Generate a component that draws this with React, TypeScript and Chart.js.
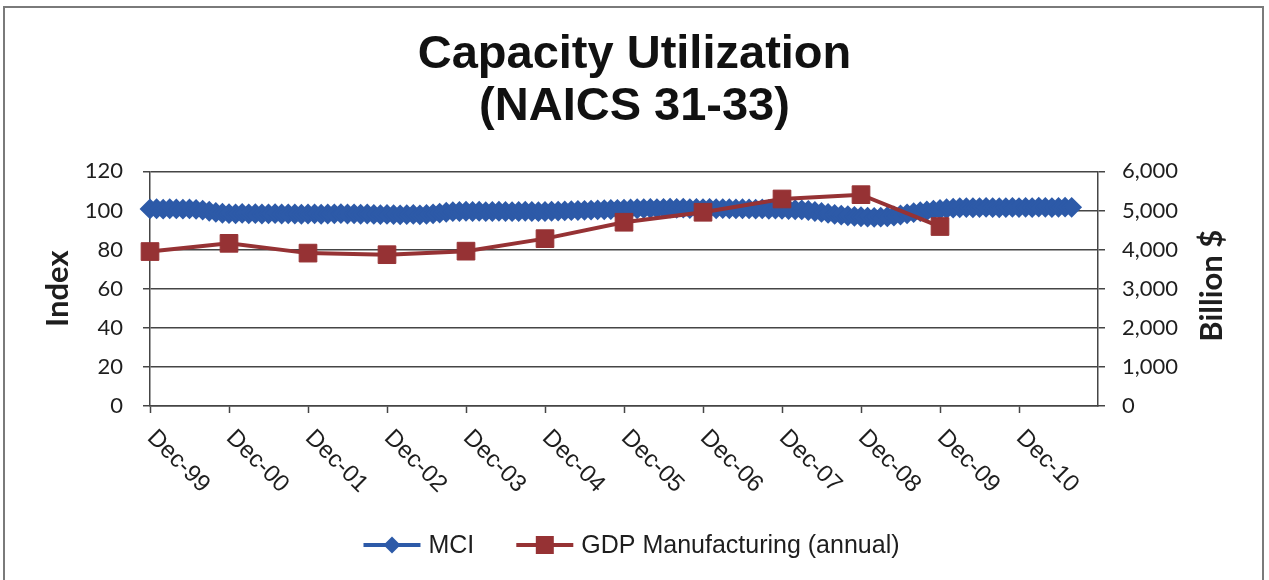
import React, { useEffect, useRef } from 'react';
import { Chart, registerables } from 'chart.js';

Chart.register(...registerables);

const TITLE_LINES = ['Capacity Utilization', '(NAICS 31-33)'];
const MONTHS = ['Jan', 'Feb', 'Mar', 'Apr', 'May', 'Jun', 'Jul', 'Aug', 'Sep', 'Oct', 'Nov', 'Dec'];
const YEARS = [2000, 2001, 2002, 2003, 2004, 2005, 2006, 2007, 2008, 2009, 2010, 2011];
const X_TICK_LABELS = ['Dec-99', 'Dec-00', 'Dec-01', 'Dec-02', 'Dec-03', 'Dec-04', 'Dec-05', 'Dec-06', 'Dec-07', 'Dec-08', 'Dec-09', 'Dec-10'];
const LEFT_TICKS = [0, 20, 40, 60, 80, 100, 120];
const RIGHT_TICKS = [0, 1000, 2000, 3000, 4000, 5000, 6000];

// Monthly MCI index, Dec-99 .. Aug-11
const mciMonthly = [
  100.8,
  100.9, 100.7, 100.9, 100.8, 100.7, 100.8, 100.6, 100.2, 99.6, 99.0, 98.6, 98.4,
  98.3, 98.5, 98.3, 98.4, 98.2, 98.3, 98.4, 98.2, 98.3, 98.2, 98.1, 98.2,
  98.3, 98.1, 98.2, 98.3, 98.4, 98.2, 98.3, 98.1, 98.2, 98.0, 97.9, 98.0,
  97.9, 97.8, 97.9, 98.0, 97.8, 98.0, 98.3, 98.7, 99.1, 99.4, 99.5, 99.6,
  99.5, 99.6, 99.4, 99.5, 99.6, 99.5, 99.4, 99.5, 99.6, 99.5, 99.4, 99.5,
  99.6, 99.7, 99.8, 99.9, 100.0, 100.1, 100.2, 100.3, 100.4, 100.5, 100.6, 100.7,
  100.8, 100.9, 101.0, 101.1, 101.0, 101.1, 101.2, 101.1, 101.2, 101.0, 101.1, 101.0,
  101.1, 100.9, 101.0, 100.9, 100.8, 100.9, 100.8, 100.7, 100.8, 100.6, 100.7, 100.6,
  100.5, 100.4, 100.3, 100.0, 99.5, 99.0, 98.5, 98.0, 97.6, 97.3, 97.0, 96.8,
  96.6, 96.5, 96.6, 96.8, 97.2, 97.7, 98.3, 98.9, 99.4, 99.8, 100.2, 100.5,
  100.9, 101.2, 101.4, 101.5, 101.4, 101.5, 101.6, 101.5, 101.4, 101.5, 101.6, 101.5,
  101.6, 101.5, 101.7, 101.6, 101.5, 101.6, 101.7, 101.6,
];

// Annual GDP Manufacturing (billion $), Dec-99 .. Dec-09
const gdpAnnualLabels = ['Dec-99', 'Dec-00', 'Dec-01', 'Dec-02', 'Dec-03', 'Dec-04', 'Dec-05', 'Dec-06', 'Dec-07', 'Dec-08', 'Dec-09'];
const gdpAnnual = [3950, 4160, 3910, 3870, 3960, 4280, 4700, 4955, 5295, 5405, 4590];

const BLUE = '#2D5AA8';
const RED = '#963234';
const AXIS = '#454545';
const TEXT = '#1e1e1e';

const categories: string[] = ['Dec-99'];
YEARS.forEach((y) => {
  MONTHS.forEach((m) => {
    categories.push(`${m}-${String(y % 100).padStart(2, '0')}`);
  });
});

const gdpSeries: (number | null)[] = categories.map(() => null);
gdpAnnualLabels.forEach((lab, i) => {
  gdpSeries[categories.indexOf(lab)] = gdpAnnual[i];
});

const yearTickIdx = new Set(X_TICK_LABELS.map((l) => categories.indexOf(l)));

const drawMarker = (ctx: CanvasRenderingContext2D, style: string, x: number, y: number, half: number) => {
  ctx.beginPath();
  if (style === 'diamond') {
    ctx.moveTo(x - half, y);
    ctx.lineTo(x, y - half);
    ctx.lineTo(x + half, y);
    ctx.lineTo(x, y + half);
    ctx.closePath();
  } else {
    ctx.rect(x - half, y - half, half * 2, half * 2);
  }
  ctx.fill();
};

const customPlugin = {
  id: 'customDecor',
  beforeDraw(chart: any) {
    const { ctx, width, height } = chart;
    ctx.save();
    ctx.fillStyle = '#ffffff';
    ctx.fillRect(0, 0, width, height);
    ctx.strokeStyle = '#7a7a7a';
    ctx.lineWidth = 2;
    ctx.strokeRect(4, 7, width - 10, height + 20);
    ctx.restore();
  },
  afterDraw(chart: any) {
    const { ctx, chartArea, width } = chart;
    const xs = chart.scales.x;
    ctx.save();
    // rotated x labels
    ctx.font = '24px "Liberation Sans", Arial, sans-serif';
    ctx.fillStyle = TEXT;
    ctx.textAlign = 'left';
    ctx.textBaseline = 'middle';
    X_TICK_LABELS.forEach((lab) => {
      const px = xs.getPixelForValue(categories.indexOf(lab));
      ctx.save();
      ctx.translate(px + 1, xs.top + 28);
      ctx.rotate(Math.PI / 4);
      ctx.fillText(lab, 0, 0);
      ctx.restore();
    });

    // axis titles
    ctx.font = 'bold 31px Lato, "Open Sans", sans-serif';
    ctx.textAlign = 'center';
    ctx.textBaseline = 'middle';
    const midY = (chartArea.top + chartArea.bottom) / 2;
    ctx.save();
    ctx.translate(58, midY);
    ctx.rotate(-Math.PI / 2);
    ctx.fillText('Index', 0, 0);
    ctx.restore();
    ctx.save();
    ctx.translate(1212, midY - 3);
    ctx.rotate(-Math.PI / 2);
    ctx.fillText('Billion $', 0, 0);
    ctx.restore();

    // legend
    const items = [
      { text: chart.data.datasets[1].label, color: BLUE, style: 'diamond', half: 8.5 },
      { text: chart.data.datasets[0].label, color: RED, style: 'square', half: 9 },
    ];
    ctx.font = '25px "Liberation Sans", Arial, sans-serif';
    const lineLen = 57;
    const gap = 8;
    const itemGap = 42;
    const widths = items.map((it) => lineLen + gap + ctx.measureText(it.text).width);
    const total = widths.reduce((a, b) => a + b, 0) + itemGap * (items.length - 1);
    let x = (width - total) / 2 - 3;
    const ly = 545;
    items.forEach((it, i) => {
      ctx.strokeStyle = it.color;
      ctx.fillStyle = it.color;
      ctx.lineWidth = 4;
      ctx.beginPath();
      ctx.moveTo(x, ly);
      ctx.lineTo(x + lineLen, ly);
      ctx.stroke();
      drawMarker(ctx, it.style, x + lineLen / 2, ly, it.half);
      ctx.fillStyle = TEXT;
      ctx.textAlign = 'left';
      ctx.textBaseline = 'middle';
      ctx.fillText(it.text, x + lineLen + gap, ly + 1);
      x += widths[i] + itemGap;
    });
    ctx.restore();
  },
};

export default function App() {
  const ref = useRef<HTMLCanvasElement | null>(null);

  useEffect(() => {
    if (!ref.current) return;
    const chart = new Chart(ref.current, {
      type: 'line',
      data: {
        labels: categories,
        datasets: [
          {
            label: 'GDP Manufacturing (annual)',
            data: gdpSeries,
            yAxisID: 'y2',
            borderColor: RED,
            backgroundColor: RED,
            borderWidth: 4,
            pointStyle: 'rect',
            pointRadius: 12.5,
            pointBorderWidth: 1,
            pointBorderColor: RED,
            pointBackgroundColor: RED,
            spanGaps: true,
            clip: false,
            tension: 0,
          },
          {
            label: 'MCI',
            data: mciMonthly,
            yAxisID: 'y',
            borderColor: BLUE,
            backgroundColor: BLUE,
            borderWidth: 3,
            pointStyle: 'rectRot',
            pointRadius: 9,
            pointBorderWidth: 2,
            pointBorderColor: BLUE,
            pointBackgroundColor: BLUE,
            clip: false,
            tension: 0,
          },
        ],
      },
      options: {
        animation: false,
        responsive: false,
        devicePixelRatio: 1,
        events: [],
        layout: { padding: 0 },
        plugins: {
          legend: { display: false },
          tooltip: { enabled: false },
          title: {
            display: true,
            text: TITLE_LINES,
            color: '#111111',
            font: { family: '"Liberation Sans", Arial, sans-serif', size: 47, weight: 'bold', lineHeight: 1.1 },
            padding: { top: 29, bottom: 39 },
          },
        },
        scales: {
          x: {
            type: 'category',
            offset: false,
            ticks: { display: false },
            grid: {
              drawOnChartArea: false,
              drawTicks: true,
              tickLength: 7,
              tickWidth: 1.5,
              tickColor: (c: any) => (yearTickIdx.has(c.index) ? AXIS : 'rgba(0,0,0,0)'),
            },
            border: { display: true, color: AXIS, width: 1.5 },
            afterFit: (s: any) => {
              s.height = 174;
            },
          },
          y: {
            position: 'left',
            min: 0,
            max: 120,
            afterBuildTicks: (s: any) => {
              s.ticks = LEFT_TICKS.map((v) => ({ value: v }));
            },
            ticks: {
              padding: 20,
              color: TEXT,
              font: { family: 'Lato, "Open Sans", sans-serif', size: 22 },
            },
            grid: { color: AXIS, lineWidth: 1.5, tickLength: 7, drawTicks: true },
            border: { display: true, color: AXIS, width: 1.5 },
            afterFit: (s: any) => {
              s.width = 150;
            },
          },
          y2: {
            position: 'right',
            min: 0,
            max: 6000,
            afterBuildTicks: (s: any) => {
              s.ticks = RIGHT_TICKS.map((v) => ({ value: v }));
            },
            ticks: {
              padding: 17,
              color: TEXT,
              font: { family: 'Lato, "Open Sans", sans-serif', size: 22 },
              callback: (v: any) => Number(v).toLocaleString('en-US'),
            },
            grid: { drawOnChartArea: false, color: AXIS, lineWidth: 1.5, tickLength: 7, drawTicks: true },
            border: { display: true, color: AXIS, width: 1.5 },
            afterFit: (s: any) => {
              s.width = 171;
            },
          },
        },
      },
      plugins: [customPlugin],
    });
    return () => chart.destroy();
  }, []);

  return (
    <div style={{ position: 'fixed', left: 0, top: 0, width: 1269, height: 580, background: '#fff' }}>
      <canvas ref={ref} width={1269} height={580} style={{ display: 'block' }} />
    </div>
  );
}
